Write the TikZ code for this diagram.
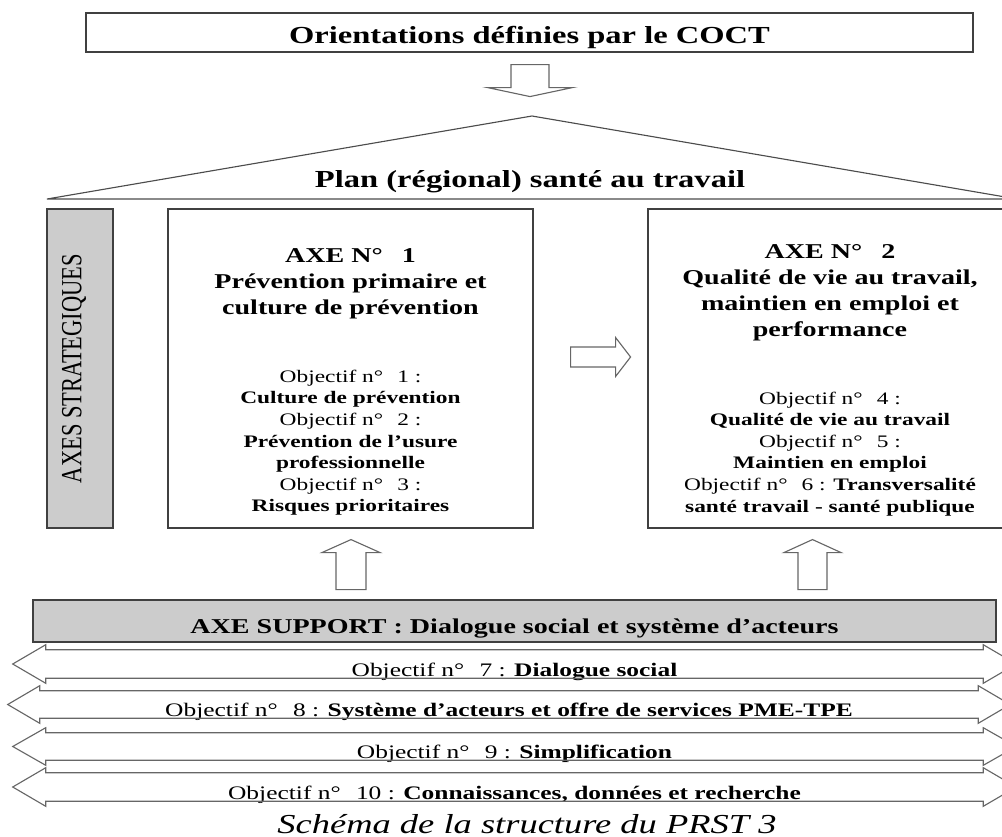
\documentclass[tikz,border=0pt]{standalone}
\usepackage{fontspec}
\usepackage{graphicx}
\setmainfont{Liberation Serif}[FakeStretch=1.33]
\newfontfamily\plainserif{Liberation Serif}
\usetikzlibrary{calc,positioning}
\newcommand{\pxu}{0.025cm}
\tikzset{
  framebox/.style={
    rectangle,
    draw=black!75,
    fill=white,
    line width=0.8pt,
    inner sep=0pt
  },
  greybox/.style={
    rectangle,
    draw=black!75,
    fill=black!20,
    line width=0.8pt,
    inner sep=0pt
  },
  boxsize/.style 2 args={minimum width=#1*\pxu, minimum height=#2*\pxu},
  titletext/.style={font=\bfseries\fontsize{17.4}{20}\selectfont},
  headtext/.style={align=center, inner sep=0pt, font=\bfseries\fontsize{15}{18.5}\selectfont},
  objtext/.style={align=center, inner sep=0pt, font=\fontsize{12.5}{15.36}\selectfont},
  bartext/.style={
    rectangle,
    inner sep=0pt,
    text height=0.6cm,
    text depth=0pt,
    font=\fontsize{13.6}{16}\selectfont
  },
  arrowline/.style={draw=black!60, line width=0.8pt},
  roofline/.style={draw=black!70, line width=0.8pt},
  pics/blockarrow/.style args={#1/#2/#3/#4}{code={
    \draw[arrowline] (0,-#2) -- ({#1-#4},-#2) -- ({#1-#4},-#3) -- (#1,0)
      -- ({#1-#4},#3) -- ({#1-#4},#2) -- (0,#2) -- cycle;
  }}
}
% outline of a two-headed bar around a node
\newcommand{\twoway}[3]{%
  \draw[arrowline] (#1.north west) -- (#1.north east) -- ($(#1.north east)+(0,-#2)$)
    -- ($(#1.east)+(#3,0)$) -- ($(#1.south east)+(0,#2)$) -- (#1.south east)
    -- (#1.south west) -- ($(#1.south west)+(0,#2)$) -- ($(#1.west)+(-#3,0)$)
    -- ($(#1.north west)+(0,-#2)$) -- cycle;
}

\begin{document}
\begin{tikzpicture}[x=0.025cm, y=-0.025cm]
  \useasboundingbox (0,0) rectangle (1002,837);
  \clip (0,0) rectangle (1002,837);

  % top
  \node[framebox, boxsize={887}{39}, titletext, text height=0.525cm, text depth=0pt] (coct)
    at (529.5,32.5) {Orientations définies par le COCT};
  \pic[rotate=-90] at ($(coct.south)+(0.5,12)$) {blockarrow=32/19/42.5/9};

  % roof
  \coordinate (apex) at (532,116);
  \draw[roofline] (47,199) -- (apex) -- (1017,199) -- cycle;
  \node[titletext, anchor=base] (plan) at (530,187) {Plan (régional) santé au travail};

  % strategic axes
  \node[greybox, boxsize={66}{319}] (axes) at (80,368.5) {};
  \node[rotate=90, inner sep=0pt, font=\plainserif\fontsize{16}{18}\selectfont] (axeslbl)
    at (74,368.5) {\scalebox{1}[1.3]{AXES STRATEGIQUES}};

  \node[framebox, boxsize={365}{319}] (axe1) at (350.5,368.5) {};
  \node[headtext] (axe1head) at (350.5,284) {AXE N°\hspace{0.9em}1\\Prévention primaire et\\culture de prévention};
  \node[objtext] (axe1obj) at (350.5,442.7) {Objectif n°\hspace{0.8em}1 :\\\textbf{Culture de prévention}\\
    Objectif n°\hspace{0.8em}2 :\\\textbf{Prévention de l’usure}\\\textbf{professionnelle}\\
    Objectif n°\hspace{0.8em}3 :\\\textbf{Risques prioritaires}};

  \node[framebox, boxsize={364}{319}] (axe2) at (830,368.5) {};
  \node[headtext] (axe2head) at (830,292.7) {AXE N°\hspace{0.9em}2\\Qualité de vie au travail,\\maintien en emploi et\\performance};
  \node[objtext] (axe2obj) at (830,453.8) {Objectif n°\hspace{0.8em}4 :\\\textbf{Qualité de vie au travail}\\
    Objectif n°\hspace{0.8em}5 :\\\textbf{Maintien en emploi}\\
    Objectif n°\hspace{0.8em}6 : \textbf{Transversalité}\\\textbf{santé travail - santé publique}};

  \pic at ($(axe1.east)+(37,-11.5)$) {blockarrow=60/10/19.5/15};

  % support axis
  \node[greybox, boxsize={963}{42}, font=\bfseries\fontsize{15}{18}\selectfont,
    text height=0.6cm, text depth=0pt] (support) at (514.5,621)
    {AXE SUPPORT : Dialogue social et système d’acteurs};
  \pic[rotate=90] at ($(axe1.south)+(0.5,61)$) {blockarrow=50/15/29/13};
  \pic[rotate=90] at ($(axe2.south)+(-17.5,61)$) {blockarrow=50/14.5/28.5/13};

  \node[bartext, boxsize={937}{28}] (obj7) at (514.5,664)
    {Objectif n°\hspace{0.8em}7 : \textbf{Dialogue social}};
  \node[bartext, boxsize={938}{27}] (obj8) at (509,704.5)
    {Objectif n°\hspace{0.8em}8 : \textbf{Système d’acteurs et offre de services PME-TPE}};
  \node[bartext, boxsize={937}{27}] (obj9) at (514.5,746.5)
    {Objectif n°\hspace{0.8em}9 : \textbf{Simplification}};
  \node[bartext, boxsize={937}{28}] (obj10) at (514.5,787)
    {Objectif n°\hspace{0.8em}10 : \textbf{Connaissances, données et recherche}};
  \twoway{obj7}{5}{33}
  \twoway{obj8}{5}{32}
  \twoway{obj9}{5}{33}
  \twoway{obj10}{5}{33}

  \node[font=\itshape\fontsize{19.5}{22}\selectfont, anchor=base] (caption) at (527,833)
    {Schéma de la structure du PRST 3};
\end{tikzpicture}
\end{document}
